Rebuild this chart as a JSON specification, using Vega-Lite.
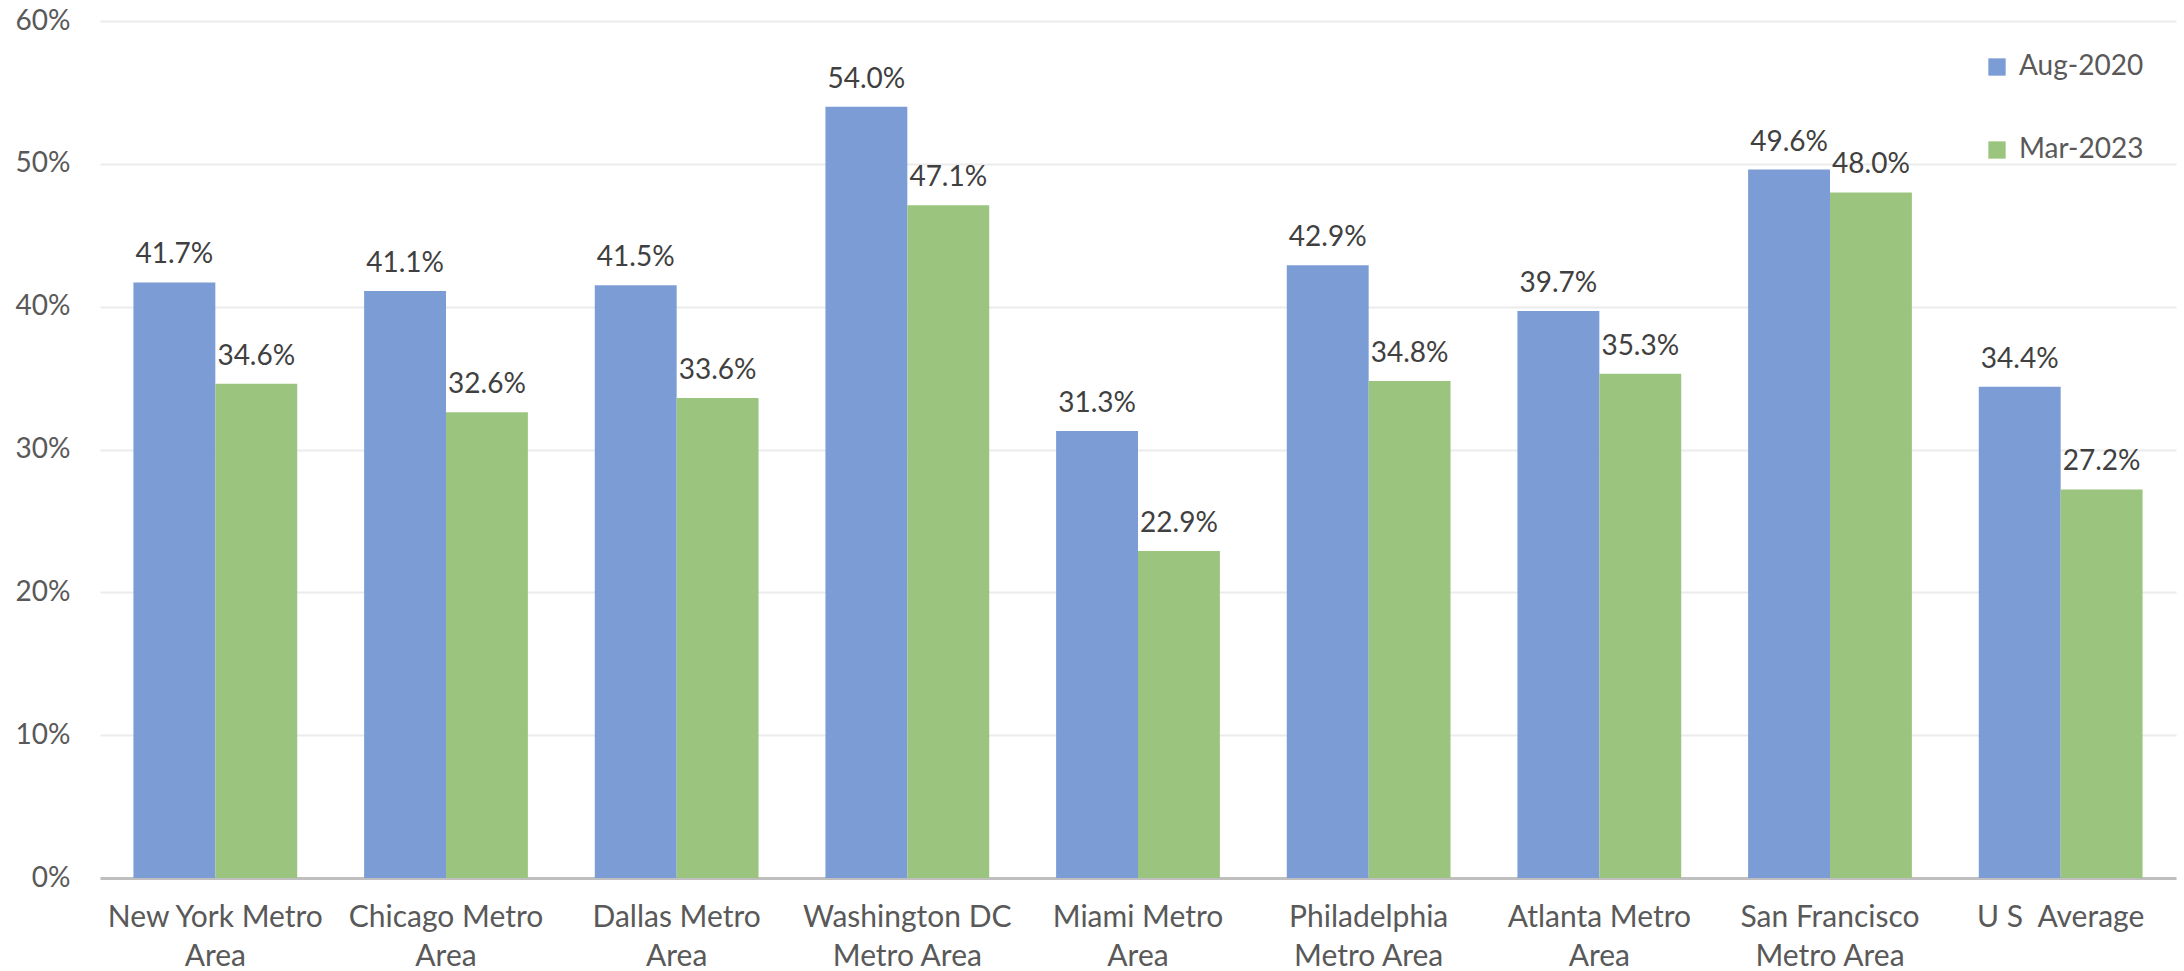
{
  "$schema": "https://vega.github.io/schema/vega-lite/v6.json",
  "width": 2076,
  "height": 857,
  "autosize": {"type": "none"},
  "padding": {"left": 100, "top": 21, "right": 8, "bottom": 93},
  "background": "white",
  "config": {
    "font": "Lato",
    "view": {"stroke": null}
  },
  "data": {
    "values": [
      {"metro": "New York Metro Area", "period": "Aug-2020", "value": 0.417},
      {"metro": "New York Metro Area", "period": "Mar-2023", "value": 0.346},
      {"metro": "Chicago Metro Area", "period": "Aug-2020", "value": 0.411},
      {"metro": "Chicago Metro Area", "period": "Mar-2023", "value": 0.326},
      {"metro": "Dallas Metro Area", "period": "Aug-2020", "value": 0.415},
      {"metro": "Dallas Metro Area", "period": "Mar-2023", "value": 0.336},
      {"metro": "Washington DC Metro Area", "period": "Aug-2020", "value": 0.540},
      {"metro": "Washington DC Metro Area", "period": "Mar-2023", "value": 0.471},
      {"metro": "Miami Metro Area", "period": "Aug-2020", "value": 0.313},
      {"metro": "Miami Metro Area", "period": "Mar-2023", "value": 0.229},
      {"metro": "Philadelphia Metro Area", "period": "Aug-2020", "value": 0.429},
      {"metro": "Philadelphia Metro Area", "period": "Mar-2023", "value": 0.348},
      {"metro": "Atlanta Metro Area", "period": "Aug-2020", "value": 0.397},
      {"metro": "Atlanta Metro Area", "period": "Mar-2023", "value": 0.353},
      {"metro": "San Francisco Metro Area", "period": "Aug-2020", "value": 0.496},
      {"metro": "San Francisco Metro Area", "period": "Mar-2023", "value": 0.480},
      {"metro": "U S\u00a0 Average", "period": "Aug-2020", "value": 0.344},
      {"metro": "U S\u00a0 Average", "period": "Mar-2023", "value": 0.272}
    ]
  },
  "encoding": {
    "x": {
      "field": "metro",
      "type": "nominal",
      "sort": null,
      "scale": {"paddingInner": 0.29, "paddingOuter": 0.145},
      "axis": {
        "title": null,
        "labelAngle": 0,
        "labelFontSize": 30,
        "labelColor": "#595959",
        "labelPadding": 39,
        "labelBaseline": "middle",
        "labelLineHeight": 39,
        "labelLimit": 0,
        "ticks": false,
        "domainColor": "#BFBFBF",
        "domainWidth": 3,
        "grid": false,
        "labelExpr": "indexof(datum.label, ' Metro Area') < 0 ? datum.label : (indexof(datum.label, ' Metro Area') > 10 ? [substring(datum.label, 0, indexof(datum.label, ' Metro Area')), 'Metro Area'] : [substring(datum.label, 0, indexof(datum.label, ' Area')), 'Area'])"
      }
    },
    "xOffset": {"field": "period", "type": "nominal", "sort": ["Aug-2020", "Mar-2023"]},
    "y": {
      "field": "value",
      "type": "quantitative",
      "scale": {"domain": [0, 0.6]},
      "axis": {
        "title": null,
        "format": ".0%",
        "values": [0, 0.1, 0.2, 0.3, 0.4, 0.5, 0.6],
        "labelFontSize": 28,
        "labelColor": "#595959",
        "labelPadding": 30,
        "ticks": false,
        "domain": false,
        "gridColor": "#EBEBEB",
        "gridWidth": 2
      }
    },
    "color": {
      "field": "period",
      "type": "nominal",
      "scale": {"domain": ["Aug-2020", "Mar-2023"], "range": ["#7C9CD5", "#9BC57E"]},
      "legend": {
        "title": null,
        "orient": "none",
        "legendX": 1883,
        "legendY": 32,
        "symbolType": "square",
        "symbolSize": 300,
        "symbolOpacity": 1,
        "symbolStrokeWidth": 0,
        "labelFontSize": 28,
        "labelColor": "#595959",
        "labelOffset": 8,
        "rowPadding": 55
      }
    }
  },
  "layer": [
    {"mark": {"type": "bar", "opacity": 1}},
    {
      "mark": {"type": "text", "baseline": "bottom", "dy": -13, "fontSize": 28},
      "encoding": {
        "text": {"field": "value", "type": "quantitative", "format": ".1%"},
        "color": {"value": "#404040"}
      }
    }
  ]
}
